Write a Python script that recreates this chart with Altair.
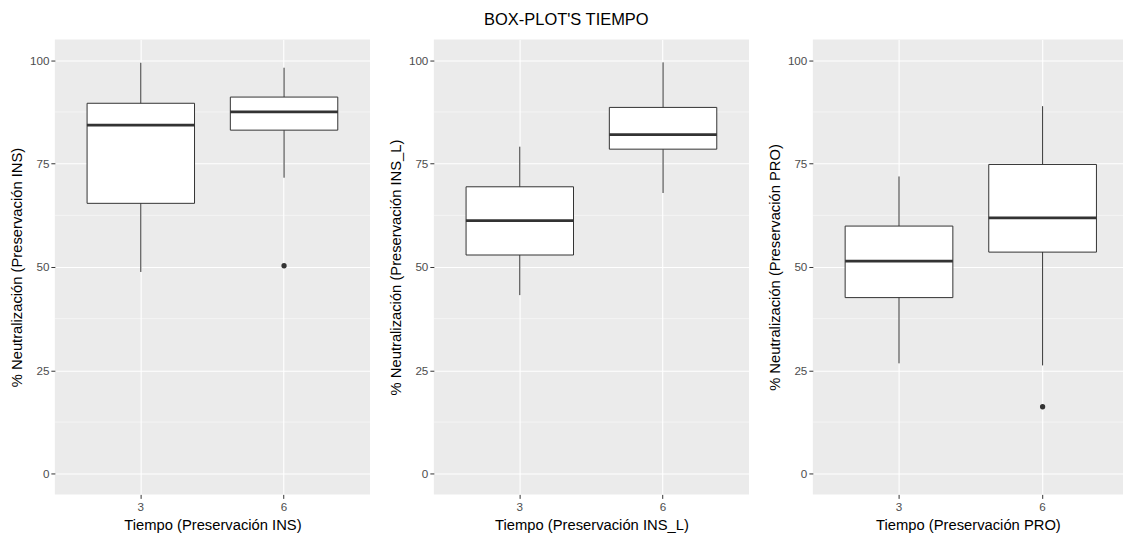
import altair as alt
import pandas as pd

# ---- data ----
grupos = ["INS", "INS_L", "PRO"]
tiempos = ["3", "6"]

lower = {"INS": [48.8, 71.6], "INS_L": [43.2, 67.9], "PRO": [26.7, 26.2]}
q1 = {"INS": [65.4, 83.1], "INS_L": [52.9, 78.5], "PRO": [42.6, 53.6]}
median = {"INS": [84.3, 87.5], "INS_L": [61.2, 82.0], "PRO": [51.4, 61.9]}
q3 = {"INS": [89.6, 91.1], "INS_L": [69.4, 88.6], "PRO": [59.9, 74.8]}
upper = {"INS": [99.4, 98.2], "INS_L": [79.1, 99.5], "PRO": [71.9, 88.9]}

outlier_tiempo = {"INS": ["6"], "INS_L": [], "PRO": ["6"]}
outlier_valor = {"INS": [50.3], "INS_L": [], "PRO": [16.2]}

y_ticks = [0, 25, 50, 75, 100]
y_minor = [12.5, 37.5, 62.5, 87.5]

FONT = "Liberation Sans"
DARK = "#333333"


def panel(g, width, pad_outer, align):
    df = pd.DataFrame({
        "t": tiempos,
        "lower": lower[g],
        "q1": q1[g],
        "median": median[g],
        "q3": q3[g],
        "upper": upper[g],
    })
    out = pd.DataFrame({"t": outlier_tiempo[g], "v": outlier_valor[g]})
    minor = pd.DataFrame({"m": y_minor})

    xscale = alt.Scale(type="band", paddingInner=0.25, paddingOuter=pad_outer, align=align)
    xaxis = alt.Axis(
        title=f"Tiempo (Preservación {g})", grid=True, gridColor="white", gridWidth=1.1,
        bandPosition=0.5, domain=False, tickColor=DARK, tickSize=4, labelAngle=0,
        labelColor="#4D4D4D", labelFontSize=11.7, labelPadding=3, titleFontSize=14.8,
        titleColor="black", titleFontWeight="normal", titlePadding=5, labelFont=FONT, titleFont=FONT,
    )
    yscale = alt.Scale(domain=[-5, 105], nice=False, zero=False)
    yaxis = alt.Axis(
        title=f"% Neutralización (Preservación {g})", values=y_ticks, grid=True,
        gridColor="white", gridWidth=1.1, domain=False, tickColor=DARK, tickSize=4,
        labelColor="#4D4D4D", labelFontSize=11.7, labelPadding=2, titleFontSize=14.8,
        titleColor="black", titleFontWeight="normal", titlePadding=5, labelFont=FONT, titleFont=FONT,
    )
    X = alt.X("t:N", sort=tiempos, scale=xscale, axis=xaxis)

    minor_layer = alt.Chart(minor).mark_rule(color="white", strokeWidth=0.5).encode(
        y=alt.Y("m:Q", scale=yscale, axis=yaxis)
    )
    whisk = alt.Chart(df).mark_rule(color=DARK, strokeWidth=1).encode(
        x=X, y=alt.Y("lower:Q", scale=yscale, axis=yaxis), y2="upper:Q"
    )
    box = alt.Chart(df).mark_bar(fill="white", stroke=DARK, strokeWidth=1).encode(
        x=X, y=alt.Y("q1:Q", scale=yscale, axis=yaxis), y2="q3:Q"
    )
    med = alt.Chart(df).mark_tick(color=DARK, thickness=2.7, size=108, opacity=1).encode(
        x=X, y=alt.Y("median:Q", scale=yscale, axis=yaxis)
    )
    layers = [minor_layer, whisk, box, med]
    if len(out):
        pts = alt.Chart(out).mark_circle(color=DARK, size=28, opacity=1).encode(
            x=X, y=alt.Y("v:Q", scale=yscale, axis=yaxis)
        )
        layers.append(pts)
    return alt.layer(*layers).properties(width=width, height=456)


p1 = panel("INS", 316, 0.225, 0.5)
p2 = panel("INS_L", 316, 0.225, 0.5)
p3 = panel("PRO", 311, 0.205, 0.549)

chart = alt.hconcat(p1, p2, p3, spacing=17).properties(
    title=alt.TitleParams(
        "BOX-PLOT'S TIEMPO", fontSize=16.5, font=FONT, fontWeight="normal",
        color="black", anchor="middle", offset=11,
    ),
    padding={"left": 9, "top": 11, "right": 0, "bottom": 0},
    background="white",
).configure_view(stroke=None, fill="#EBEBEB")

chart.save("out.html", embed_options={"renderer": "svg", "actions": False})
